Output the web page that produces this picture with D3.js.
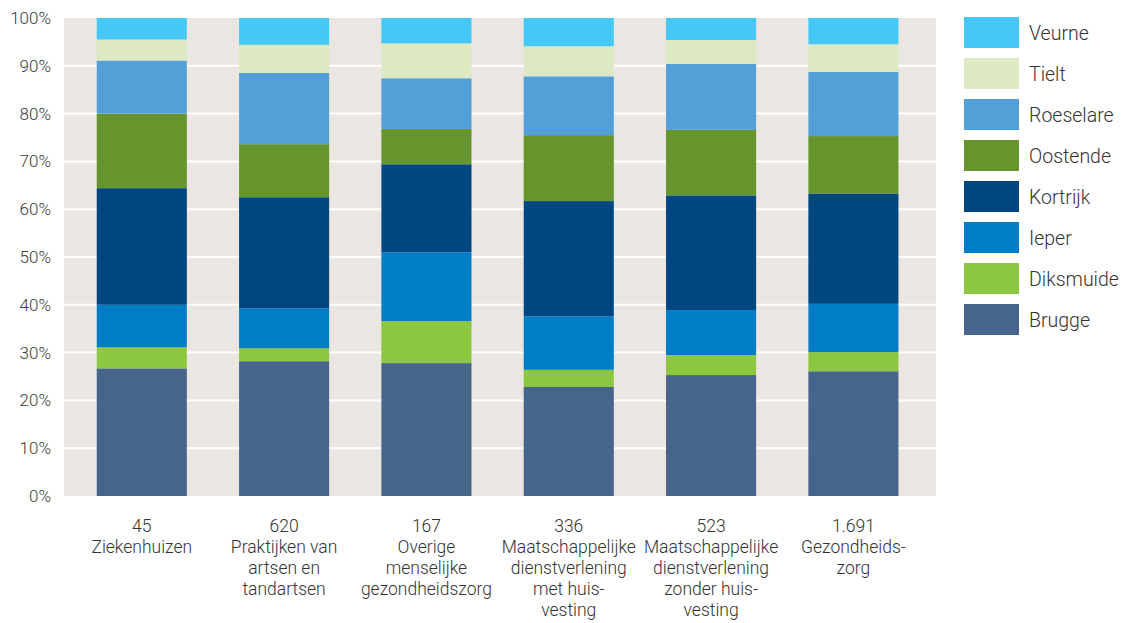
<!DOCTYPE html>
<html>
<head>
<meta charset="utf-8">
<script src="https://cdn.jsdelivr.net/npm/d3@7"></script>
<style>
  body { margin: 0; background: #fff; }
  text { font-family: Roboto, "Noto Sans", sans-serif; font-weight: 300; }
</style>
</head>
<body>
<svg id="drawing_region"></svg>
<script>
// sectors (x axis), with number of organisations on the first line
const counts = ["45", "620", "167", "336", "523", "1.691"];
const sectors = [
    ["Ziekenhuizen"],
    ["Praktijken van", "artsen en", "tandartsen"],
    ["Overige", "menselijke", "gezondheidszorg"],
    ["Maatschappelijke", "dienstverlening", "met huis-", "vesting"],
    ["Maatschappelijke", "dienstverlening", "zonder huis-", "vesting"],
    ["Gezondheids-", "zorg"]
];

// regions, bottom to top of the stack
const regions = ["Brugge", "Diksmuide", "Ieper", "Kortrijk", "Oostende", "Roeselare", "Tielt", "Veurne"];
const colors  = ["#47648b", "#8dc63f", "#007dc5", "#004782", "#66952e", "#52a0d7", "#dce9c3", "#45c8f5"];

// share (%) per region, one value per sector
const brugge    = [26.7, 28.2, 27.8, 22.8, 25.3, 26.1];
const diksmuide = [ 4.4,  2.7,  8.8,  3.6,  4.2,  4.0];
const ieper     = [ 8.9,  8.4, 14.4, 11.2,  9.4, 10.1];
const kortrijk  = [24.4, 23.2, 18.4, 24.1, 24.0, 23.0];
const oostende  = [15.6, 11.1,  7.4, 13.8, 13.7, 12.1];
const roeselare = [11.1, 14.9, 10.6, 12.3, 13.8, 13.4];
const tielt     = [ 4.4,  5.9,  7.3,  6.3,  5.0,  5.8];
const veurne    = [ 4.5,  5.6,  5.3,  5.9,  4.6,  5.5];

const yticks = [0, 10, 20, 30, 40, 50, 60, 70, 80, 90, 100];

const series_values = [brugge, diksmuide, ieper, kortrijk, oostende, roeselare, tielt, veurne];
const table = counts.map((c, i) => {
    const row = { key: i };
    regions.forEach((r, j) => { row[r] = series_values[j][i]; });
    return row;
});

const width = 1125, height = 623;
const plot = { left: 64, right: 936, top: 18, bottom: 496 };

const svg = d3.select('#drawing_region')
    .attr('width', width)
    .attr('height', height);

const xscale = d3.scaleBand()
    .domain(table.map(d => d.key))
    .range([70.7, 924.5])
    .paddingInner(0.367)
    .paddingOuter(0.183);

const yscale = d3.scaleLinear()
    .domain([0, 100])
    .range([plot.bottom, plot.top]);

// background
svg.append('rect')
    .attr('x', plot.left)
    .attr('y', plot.top)
    .attr('width', plot.right - plot.left)
    .attr('height', plot.bottom - plot.top)
    .attr('fill', '#ebe6e1');

// grid lines
svg.append('g')
    .selectAll('line')
    .data(yticks.filter(t => t > 0 && t < 100))
    .join('line')
    .attr('x1', plot.left)
    .attr('x2', plot.right)
    .attr('y1', d => yscale(d))
    .attr('y2', d => yscale(d))
    .attr('stroke', '#fff')
    .attr('stroke-width', 2);

// stacked bars
const stack = d3.stack().keys(regions)(table);

svg.append('g')
    .selectAll('g')
    .data(stack)
    .join('g')
    .attr('fill', (d, i) => colors[i])
    .selectAll('rect')
    .data(d => d)
    .join('rect')
    .attr('x', d => xscale(d.data.key))
    .attr('width', xscale.bandwidth())
    .attr('y', d => yscale(d[1]))
    .attr('height', d => yscale(d[0]) - yscale(d[1]));

// y axis
const yaxis = d3.axisLeft(yscale)
    .tickValues(yticks)
    .tickFormat(d => d + '%')
    .tickSize(0)
    .tickPadding(13);

svg.append('g')
    .attr('transform', `translate(${plot.left}, 0)`)
    .call(yaxis)
    .call(g => g.select('.domain').remove())
    .selectAll('text')
    .attr('font-size', 17)
    .attr('font-family', 'Roboto, sans-serif')
    .attr('fill', '#3a3a3a');

// x axis with multi-line labels
const xaxis = d3.axisBottom(xscale)
    .tickSize(0)
    .tickFormat('');

const xg = svg.append('g')
    .attr('transform', `translate(0, ${plot.bottom})`)
    .call(xaxis)
    .call(g => g.select('.domain').remove());

xg.selectAll('.tick text')
    .attr('font-size', 17.5)
    .attr('font-family', 'Roboto, sans-serif')
    .attr('fill', '#333')
    .attr('y', 36)
    .attr('dy', 0)
    .each(function(d) {
        const lines = [counts[d]].concat(sectors[d]);
        d3.select(this).selectAll('tspan')
            .data(lines)
            .join('tspan')
            .attr('x', 0)
            .attr('dy', (l, i) => i === 0 ? 0 : 21)
            .text(l => l);
    });

// legend
const legend = svg.append('g')
    .attr('transform', 'translate(964, 17)');

const items = legend.selectAll('g')
    .data(regions.slice().reverse())
    .join('g')
    .attr('transform', (d, i) => `translate(0, ${i * 41})`);

items.append('rect')
    .attr('width', 55)
    .attr('height', 31)
    .attr('fill', d => colors[regions.indexOf(d)]);

items.append('text')
    .attr('x', 65)
    .attr('y', 16)
    .attr('dy', '0.35em')
    .attr('font-size', 19.5)
    .attr('fill', '#333')
    .text(d => d);
</script>
</body>
</html>
